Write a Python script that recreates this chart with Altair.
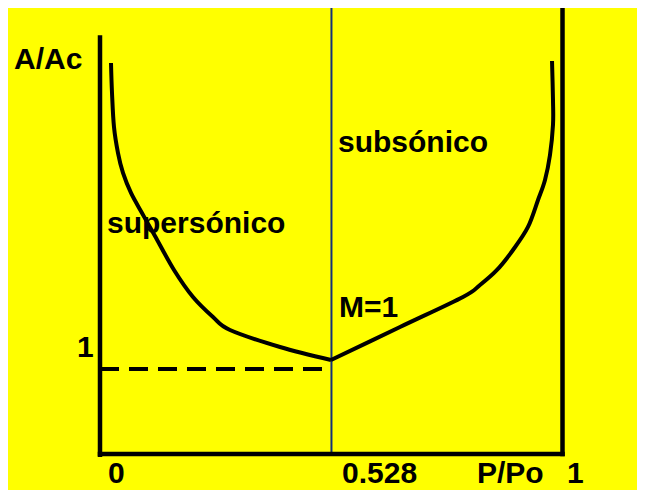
import altair as alt
import pandas as pd

# Schematic coordinates: u = position along P/Po axis (0 = left axis, 1 = right axis)
# v = A/Ac level (0 = bottom axis, 1 = dashed reference level)

# supersonic branch (left)
sup_u = [0.0238, 0.0260, 0.0303, 0.0390, 0.0498, 0.0671, 0.0909, 0.1190, 0.1602, 0.2013, 0.2446, 0.2814, 0.3896, 0.5000]
sup_v = [4.600, 4.247, 3.847, 3.541, 3.306, 3.071, 2.835, 2.565, 2.165, 1.847, 1.612, 1.459, 1.259, 1.106]

# subsonic branch (right)
sub_u = [0.5000, 0.6494, 0.7857, 0.8225, 0.8593, 0.8939, 0.9264, 0.9481, 0.9632, 0.9740, 0.9805, 0.9805, 0.9784]
sub_v = [1.106, 1.494, 1.847, 1.988, 2.165, 2.400, 2.671, 2.988, 3.224, 3.518, 3.871, 4.165, 4.624]

# frame lines (left axis, bottom axis, right border)
frame_u1 = [0.0, 0.0, 1.0011]
frame_u2 = [0.0, 1.0011, 1.0011]
frame_v1 = [-0.01, 0.0, 0.0]
frame_v2 = [4.90, 0.0, 5.40]

# critical pressure ratio line and A/Ac = 1 reference
crit_u = [0.501]
crit_v = [0.0, 5.40]
ref_v = [1.0]
ref_u = [0.0, 0.501]

labels = ["A/Ac", "subsónico", "supersónico", "M=1", "1", "0", "0.528", "P/Po", "1"]
lab_u = [-0.1861, 0.5152, 0.0152, 0.5173, -0.0498, 0.0173, 0.5238, 0.8160, 1.0108]
lab_v = [4.529, 3.557, 2.600, 1.612, 1.141, -0.347, -0.347, -0.347, -0.347]

X_DOM = [-0.19913, 1.16234]
Y_DOM = [-0.42353, 5.24706]

xs = alt.Scale(domain=X_DOM, nice=False, zero=False)
ys = alt.Scale(domain=Y_DOM, nice=False, zero=False)

curve_df = pd.DataFrame({
    "u": sup_u + sub_u,
    "v": sup_v + sub_v,
    "branch": ["sup"] * len(sup_u) + ["sub"] * len(sub_u),
    "order": list(range(len(sup_u))) + list(range(len(sub_u))),
})
frame_df = pd.DataFrame({"u1": frame_u1, "u2": frame_u2, "v1": frame_v1, "v2": frame_v2})
crit_df = pd.DataFrame({"u1": crit_u, "v1": [crit_v[0]], "v2": [crit_v[1]]})
ref_df = pd.DataFrame({"u1": [ref_u[0]], "u2": [ref_u[1]], "v1": ref_v})
lab_df = pd.DataFrame({"t": labels, "u": lab_u, "v": lab_v})

crit = alt.Chart(crit_df).mark_rule(color="#14307a", strokeWidth=2).encode(
    x=alt.X("u1:Q", scale=xs, axis=None),
    y=alt.Y("v1:Q", scale=ys, axis=None),
    y2="v2:Q",
)

ref = alt.Chart(ref_df).mark_rule(color="black", strokeWidth=4, strokeDash=[19, 10]).encode(
    x=alt.X("u1:Q", scale=xs, axis=None),
    x2="u2:Q",
    y=alt.Y("v1:Q", scale=ys, axis=None),
)

frame = alt.Chart(frame_df).mark_rule(color="black", strokeWidth=4.5, strokeCap="square").encode(
    x=alt.X("u1:Q", scale=xs, axis=None),
    x2="u2:Q",
    y=alt.Y("v1:Q", scale=ys, axis=None),
    y2="v2:Q",
)

curve = alt.Chart(curve_df).mark_line(color="black", strokeWidth=4, interpolate="cardinal").encode(
    x=alt.X("u:Q", scale=xs, axis=None),
    y=alt.Y("v:Q", scale=ys, axis=None),
    detail="branch:N",
    order="order:Q",
)

text = alt.Chart(lab_df).mark_text(
    font="Liberation Sans", fontWeight="bold", fontSize=30,
    align="left", baseline="alphabetic", color="black",
).encode(
    x=alt.X("u:Q", scale=xs, axis=None),
    y=alt.Y("v:Q", scale=ys, axis=None),
    text="t:N",
)

chart = alt.layer(crit, ref, frame, curve, text).properties(
    width=629, height=482, background="#ffff00",
    autosize=alt.AutoSizeParams(type="none"), padding=0,
).configure_view(stroke=None)

chart.save("out.html", embed_options={"renderer": "svg", "actions": False})
